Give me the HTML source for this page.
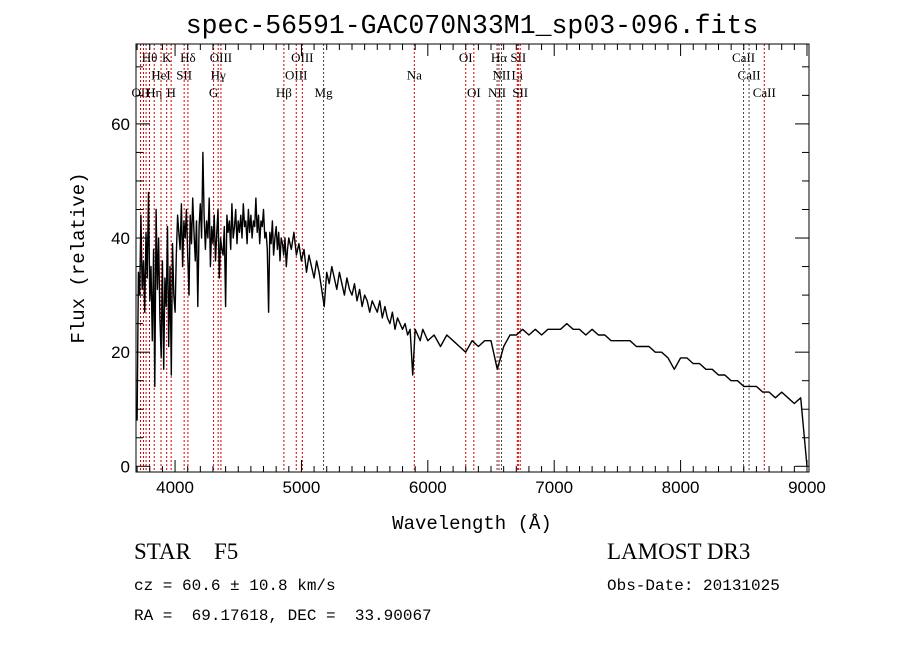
<!DOCTYPE html>
<html><head><meta charset="utf-8"><style>
body{margin:0;background:#fff;}
svg{display:block;}
text{fill:#000;}
.mono{font-family:"Liberation Mono","DejaVu Sans Mono",monospace;}
.serif{font-family:"Liberation Serif","DejaVu Serif",serif;}
.sans{font-family:"Liberation Sans","DejaVu Sans",sans-serif;}
</style></head><body>
<svg id="chart" width="900" height="649" viewBox="0 0 900 649" xmlns="http://www.w3.org/2000/svg">
<text class="mono" x="472" y="33" font-size="26.5" text-anchor="middle">spec-56591-GAC070N33M1_sp03-096.fits</text>
<text class="mono" transform="translate(84,258) rotate(-90)" font-size="19" text-anchor="middle">Flux (relative)</text>
<text class="mono" x="472" y="529" font-size="19" text-anchor="middle">Wavelength (Å)</text>
<text class="serif" x="134" y="559" font-size="23" xml:space="preserve">STAR    F5</text>
<text class="mono" x="134" y="590" font-size="16">cz = 60.6 ± 10.8 km/s</text>
<text class="mono" x="134" y="620" font-size="16" xml:space="preserve">RA =  69.17618, DEC =  33.90067</text>
<text class="serif" x="607" y="559" font-size="23">LAMOST DR3</text>
<text class="mono" x="607" y="590" font-size="16">Obs-Date: 20131025</text>
<g id="lines"></g>
<g id="spec"></g>
<g id="axes"></g>
</svg>
<script>
const lineWaves=[3727,3750,3771,3798,3835,3889,3934,3969,4072,4102,4305,4341,4363,4861,4959,5007,5175,5893,6300,6364,6548,6563,6583,6708,6716,6731,8498,8542,8662];
const lineNames=["OII","H\u03BA","H\u03B9","H\u03B8","H\u03B7","HeI","K","H","SII","H\u03B4","G","H\u03B3","OIII","H\u03B2","OIII","OIII","Mg","Na","OI","OI","NII","H\u03B1","NII","Li","SII","SII","CaII","CaII","CaII"];
const lineRows=[2,1,2,0,2,1,0,2,1,0,2,1,0,2,1,0,2,1,0,2,2,0,1,1,0,2,0,1,2];
const showLabel=[1,0,0,1,1,1,1,1,1,1,1,1,1,1,1,1,1,1,1,1,1,1,1,1,1,1,1,1,1];
const specStart1=3700, specStep1=10;
const flux1=[8,34,30,44,31,36,27,41,33,48,29,35,22,38,14,45,31,40,26,19,36,17,33,28,42,21,35,16,39,30,
27,37,44,41,38,46,35,43,40,45,37,30,44,39,47,41,36,43,28,42,46,40,55,44,38,43,40,47,35,42,
39,44,36,41,45,33,40,38,37,42,28,44,41,43,38,46,40,42,45,39,43,41,44,40,46,42,43,39,45,41,
44,40,43,42,47,41,44,39,43,42,45,40,41,38,27,41,39,43,37,40,42,38,41,36,40,39,37,40,35,38];
const specStart2=4900, specStep2=20;
const flux2=[40,38,41,37,39,
36,38,34,37,35,33,36,34,31,28,
34,32,35,33,31,34,32,30,33,31,
30,32,29,31,28,30,29,27,29,28,
27,29,26,28,26,25,27,24,26,25,
24,25,23,24,16,24,23,22,24,23];
const specStart3=6000, specStep3=50;
const flux3=[22,23,21,23,22,21,20,22,21,22,
22,17,21,23,23,24,23,24,23,24,
24,24,25,24,24,23,24,23,23,22,
22,22,22,21,21,21,20,20,19,17,
19,19,18,18,17,17,16,16,15,15,
14,14,14,13,13,12,13,12,11,12,
0];
const xTicks=[4000,5000,6000,7000,8000,9000];
const yTicks=[0,20,40,60];
const X0=136,X1=809,Y0=44,Y1=472;
const xMin=3691,xMax=9016,yMin=-1,yMax=74;
const xs=w=>X0+(w-xMin)/(xMax-xMin)*(X1-X0);
const ys=v=>Y1-(v-yMin)/(yMax-yMin)*(Y1-Y0);
const NS="http://www.w3.org/2000/svg";
function mk(tag,attrs,parent){const e=document.createElementNS(NS,tag);for(const k in attrs)e.setAttribute(k,attrs[k]);parent.appendChild(e);return e;}
const gl=document.getElementById('lines'),gs=document.getElementById('spec'),ga=document.getElementById('axes');
lineWaves.forEach((w,i)=>{
 const l=mk('line',{x1:xs(w),x2:xs(w),y1:Y0,y2:Y1,stroke:(i==16||i==20||i==22||i==26||i==27)?'#444':'#c00',"stroke-width":1,"stroke-dasharray":"2,2"},gl);
 
 
 if(!showLabel[i])return;
 const t=mk('text',{x:xs(w),y:62+lineRows[i]*17.5,"font-size":13,"text-anchor":"middle",class:"serif"},gl);
 t.textContent=lineNames[i];
 
 
});
let pts=[];
flux1.forEach((v,i)=>{const w=specStart1+i*specStep1;if(w<specStart2)pts.push([xs(w),ys(v)]);});
flux2.forEach((v,i)=>{const w=specStart2+i*specStep2;if(w<specStart3)pts.push([xs(w),ys(v)]);});
flux3.forEach((v,i)=>{pts.push([xs(specStart3+i*specStep3),ys(v)]);});
let d='';pts.forEach((p,i)=>{d+=(i?' L':'M')+p[0].toFixed(1)+' '+p[1].toFixed(1);});
const sp=mk('path',{d:d,fill:'none',stroke:'#000',"stroke-width":1.4,"stroke-linejoin":"round"},gs);


const frame=mk('rect',{x:X0,y:Y0,width:X1-X0,height:Y1-Y0,fill:'none',stroke:'#000',"stroke-width":1},ga);


for(let w=3700;w<=9000;w+=100){const big=w%1000==0;const x=xs(w);const L=big?12:6;
 mk('line',{x1:x,x2:x,y1:Y1,y2:Y1-L,stroke:'#000'},ga);mk('line',{x1:x,x2:x,y1:Y0,y2:Y0+L,stroke:'#000'},ga);}
for(let v=0;v<=70;v+=5){const big=v%20==0;const y=ys(v);const L=big?14:7;
 mk('line',{x1:X0,x2:X0+L,y1:y,y2:y,stroke:'#000'},ga);mk('line',{x1:X1,x2:X1-L,y1:y,y2:y,stroke:'#000'},ga);}
xTicks.forEach(w=>{const t=mk('text',{x:xs(w),y:Y1+21,"font-size":17,"text-anchor":"middle",class:"sans"},ga);t.textContent=w;
 
 });
yTicks.forEach(v=>{const t=mk('text',{x:X0-6,y:ys(v)+6,"font-size":17,"text-anchor":"end",class:"sans"},ga);t.textContent=v;
 
 });
</script>
</body></html>
